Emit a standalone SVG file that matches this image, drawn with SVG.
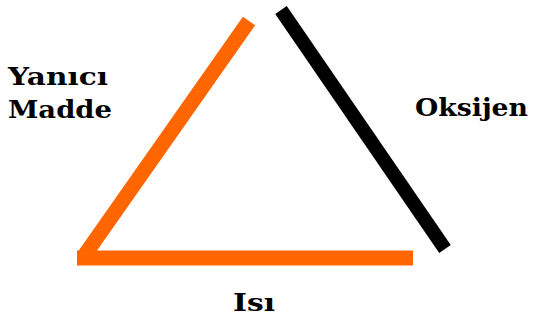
<svg xmlns="http://www.w3.org/2000/svg" width="540" height="325" viewBox="0 0 540 325">
<style>
.lbl{font-family:"DejaVu Serif","Liberation Serif",serif;font-weight:bold;font-size:25px;fill:#000}
.o{stroke:#FF6600;stroke-width:15;fill:none}
.k{stroke:#000;stroke-width:14;fill:none}
</style>
<rect width="540" height="325" fill="#fff"/>
<g id="connectors">
<line class="o" x1="84" y1="256" x2="249" y2="21"/>
<line class="o" x1="77" y1="258" x2="413" y2="258"/>
<line class="k" x1="281" y1="10" x2="445" y2="249"/>
</g>
<g id="yanici"><text class="lbl" x="8" y="85" textLength="100" lengthAdjust="spacingAndGlyphs">Yanıcı</text><text class="lbl" x="8" y="118" textLength="104" lengthAdjust="spacingAndGlyphs">Madde</text></g>
<g id="oksijen"><text class="lbl" x="415" y="116" textLength="113" lengthAdjust="spacingAndGlyphs">Oksijen</text></g>
<g id="isi"><text class="lbl" x="233" y="311" textLength="42" lengthAdjust="spacingAndGlyphs">Isı</text></g>
</svg>
